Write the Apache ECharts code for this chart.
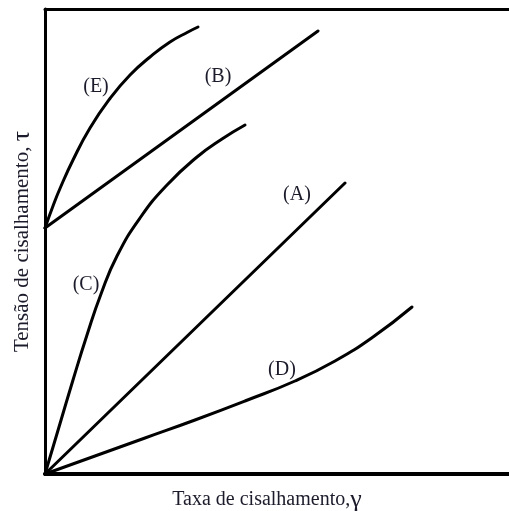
<!DOCTYPE html>
<html>
<head>
<meta charset="utf-8">
<script src="https://cdn.jsdelivr.net/npm/echarts@6/dist/echarts.min.js"></script>
<style>
  html, body { margin: 0; padding: 0; background: #fff; }
  #chart { width: 509px; height: 511px; }
</style>
</head>
<body>
<div id="chart"></div>
<script>
// Flow curves: shear stress (tau) versus shear rate (gamma), arbitrary units
const curveA = [[0, 0], [300, 291]];
const curveB = [[0, 246], [273, 443]];
const curveC = [[0, 0], [14, 47], [28, 94], [42, 139], [56, 180], [72, 218], [95, 256], [122, 289], [152, 317], [177, 335], [200, 349]];
const curveD = [[0, 0], [50, 18], [100, 36], [150, 54], [200, 73], [250, 93], [290, 113], [328, 137], [367, 167]];
const curveE = [[0, 246], [8, 268], [15, 285.5], [28, 314], [45, 346], [65, 375.5], [85, 399], [105, 417], [125, 432], [143, 442], [153, 447]];

// Curve tags and the point each one is centred on
const tagNames = ['(A)', '(B)', '(C)', '(D)', '(E)'];
const tagX = [252, 173, 41, 237, 51];
const tagY = [279, 397, 189, 104, 387];

const xTitle = 'Taxa de cisalhamento,';
const yTitle = 'Tensão de cisalhamento, ';

const ink = '#1b1b2b';
const serif = '"Liberation Serif", "DejaVu Serif", serif';

function curve(name, data) {
  return {
    name: name,
    type: 'line',
    data: data,
    smooth: 0.5,
    showSymbol: false,
    symbol: 'none',
    clip: false,
    lineStyle: { color: '#000', width: 3, cap: 'round' },
    emphasis: { disabled: true },
    z: 3
  };
}

const chart = echarts.init(document.getElementById('chart'), null, { renderer: 'canvas' });
chart.setOption({
  animation: false,
  backgroundColor: '#fff',
  grid: { left: 45, right: 0, top: 9, bottom: 37, containLabel: false, outerBoundsMode: 'none' },
  xAxis: [
    {
      type: 'value', min: 0, max: 464, position: 'bottom',
      axisLine: { show: true, lineStyle: { color: '#000', width: 4 } },
      axisTick: { show: false }, axisLabel: { show: false }, splitLine: { show: false },
      name: '{t|' + xTitle + '}{g|γ}',
      nameLocation: 'middle',
      nameGap: 13,
      nameTextStyle: {
        padding: [0, 20, 0, 0],
        rich: {
          t: { fontFamily: serif, fontSize: 20, color: ink },
          g: { fontFamily: serif, fontSize: 26, color: ink }
        }
      }
    },
    {
      type: 'value', min: 0, max: 464, position: 'top',
      axisLine: { show: true, lineStyle: { color: '#000', width: 3 } },
      axisTick: { show: false }, axisLabel: { show: false }, splitLine: { show: false }
    }
  ],
  yAxis: {
    type: 'value', min: 0, max: 465,
    axisLine: { show: true, lineStyle: { color: '#000', width: 3 } },
    axisTick: { show: false }, axisLabel: { show: false }, splitLine: { show: false },
    name: '{t|' + yTitle + '}{g|τ}',
    nameLocation: 'middle',
    nameGap: 10,
    nameTextStyle: {
      rich: {
        t: { fontFamily: serif, fontSize: 21, color: ink },
        g: { fontFamily: serif, fontSize: 26, color: ink }
      }
    }
  },
  series: [
    curve('A', curveA),
    curve('B', curveB),
    curve('C', curveC),
    curve('D', curveD),
    curve('E', curveE),
    {
      name: 'tags',
      type: 'scatter',
      symbolSize: 0,
      itemStyle: { opacity: 1 },
      data: tagNames.map((n, i) => ({ value: [tagX[i], tagY[i]], name: n })),
      label: {
        show: true,
        position: 'inside',
        formatter: p => p.name,
        fontFamily: serif,
        fontSize: 20,
        color: ink,
        opacity: 1
      },
      emphasis: { disabled: true },
      silent: true,
      z: 4
    }
  ]
});
</script>
</body>
</html>
